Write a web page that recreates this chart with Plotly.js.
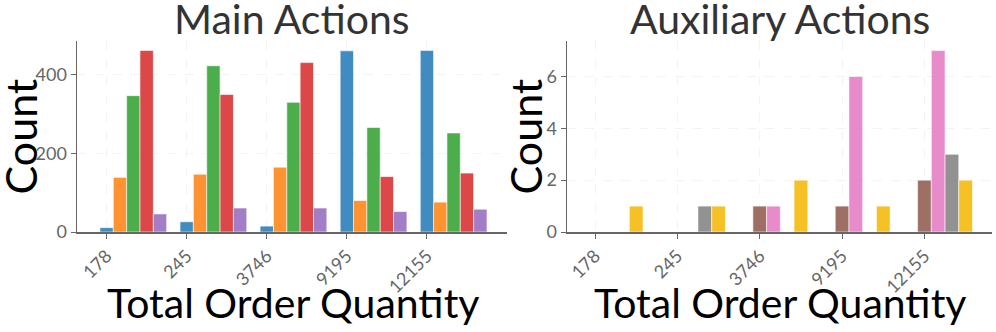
<!DOCTYPE html>
<html>
<head>
<meta charset="utf-8">
<script src="https://cdn.plot.ly/plotly-3.0.1.min.js"></script>
<style>html,body{margin:0;padding:0;background:#fff;}#chart{width:996px;height:332px;}</style>
</head>
<body>
<div id="chart"></div>
<script>
// ---- data ----
const categories = ['178', '245', '3746', '9195', '12155'];

const mainNames = ['Main A', 'Main B', 'Main C', 'Main D', 'Main E'];
const mainA = [11, 26, 15, 461, 462];
const mainB = [139, 147, 165, 80, 76];
const mainC = [347, 423, 330, 266, 252];
const mainD = [462, 350, 431, 141, 150];
const mainE = [46, 61, 61, 52, 58];

const auxNames = ['Aux A', 'Aux B', 'Aux C', 'Aux D'];
const auxA = [0, 0, 1, 1, 2];
const auxB = [0, 0, 1, 6, 7];
const auxC = [0, 1, 0, 0, 3];
const auxD = [1, 1, 2, 1, 2];

const panelTitles = ['Main Actions', 'Auxiliary Actions'];
const xTitle = 'Total Order Quantity';
const yTitle = 'Count';

// ---- styles ----
const mainColors = ['#1f77b4', '#ff7f0e', '#2ca02c', '#d62728', '#9467bd'];
const auxColors = ['#8c564b', '#e377c2', '#7f7f7f', '#f5b700'];
const FONT = 'Lato, "Open Sans", sans-serif';
const slot = 1 / 6;

function makeTraces(seriesList, names, colors, xa, ya) {
  return seriesList.map((vals, i) => ({
    type: 'bar',
    x: categories,
    y: vals,
    name: names[i],
    xaxis: xa,
    yaxis: ya,
    width: slot,
    offset: -slot / 2 + i * slot,
    opacity: 0.85,
    marker: { color: colors[i], line: { color: 'rgba(255,255,255,0.6)', width: 1 } },
    showlegend: false
  }));
}

const traces = [
  ...makeTraces([mainA, mainB, mainC, mainD, mainE], mainNames, mainColors, 'x', 'y'),
  ...makeTraces([auxA, auxB, auxC, auxD], auxNames, auxColors, 'x2', 'y2')
];

const axisCommon = {
  showline: true, linecolor: '#666', linewidth: 1.5,
  ticks: 'outside', ticklen: 5, tickcolor: '#666', tickwidth: 1,
  tickfont: { family: FONT, size: 18, color: '#666' },
  showgrid: true, gridcolor: '#f3f3f3', gridwidth: 1, griddash: 'dash',
  zeroline: false
};

const pxL = 77, pxR = 992, pyT = 41, pyB = 232;
const W = pxR - pxL, H = pyB - pyT;
const px = v => (v - pxL) / W;
const py = v => (pyB - v) / H;

const layout = {
  width: 996, height: 332,
  margin: { l: pxL, r: 996 - pxR, t: pyT, b: 332 - pyB },
  paper_bgcolor: '#fff', plot_bgcolor: '#fff',
  barmode: 'overlay',
  font: { family: FONT },
  xaxis: Object.assign({}, axisCommon, { domain: [0, px(507)], type: 'category', tickangle: -45, range: [-0.37, 5.0], anchor: 'y' }),
  yaxis: Object.assign({}, axisCommon, { domain: [0, 1], range: [0, 486], tickvals: [0, 200, 400], anchor: 'x' }),
  xaxis2: Object.assign({}, axisCommon, { domain: [px(567), 1], type: 'category', tickangle: -45, range: [-0.34, 4.82], anchor: 'y2' }),
  yaxis2: Object.assign({}, axisCommon, { domain: [0, 1], range: [0, 7.37], tickvals: [0, 2, 4, 6], anchor: 'x2' }),
  annotations: [
    { text: panelTitles[0], xref: 'paper', yref: 'paper', x: px(292), y: py(18), xanchor: 'center', yanchor: 'middle', showarrow: false, font: { family: FONT, size: 41, color: '#333' } },
    { text: panelTitles[1], xref: 'paper', yref: 'paper', x: px(779.5), y: py(18), xanchor: 'center', yanchor: 'middle', showarrow: false, font: { family: FONT, size: 41, color: '#333' } },
    { text: xTitle, xref: 'paper', yref: 'paper', x: px(293), y: py(302), xanchor: 'center', yanchor: 'middle', showarrow: false, font: { family: FONT, size: 41, color: '#000' } },
    { text: xTitle, xref: 'paper', yref: 'paper', x: px(779.5), y: py(302), xanchor: 'center', yanchor: 'middle', showarrow: false, font: { family: FONT, size: 41, color: '#000' } },
    { text: yTitle, xref: 'paper', yref: 'paper', x: px(20), y: py(136.5), xanchor: 'center', yanchor: 'middle', textangle: -90, showarrow: false, font: { family: FONT, size: 43, color: '#000' } },
    { text: yTitle, xref: 'paper', yref: 'paper', x: px(525), y: py(136.5), xanchor: 'center', yanchor: 'middle', textangle: -90, showarrow: false, font: { family: FONT, size: 43, color: '#000' } }
  ]
};

Plotly.newPlot('chart', traces, layout, { staticPlot: true, displayModeBar: false });
</script>
</body>
</html>
